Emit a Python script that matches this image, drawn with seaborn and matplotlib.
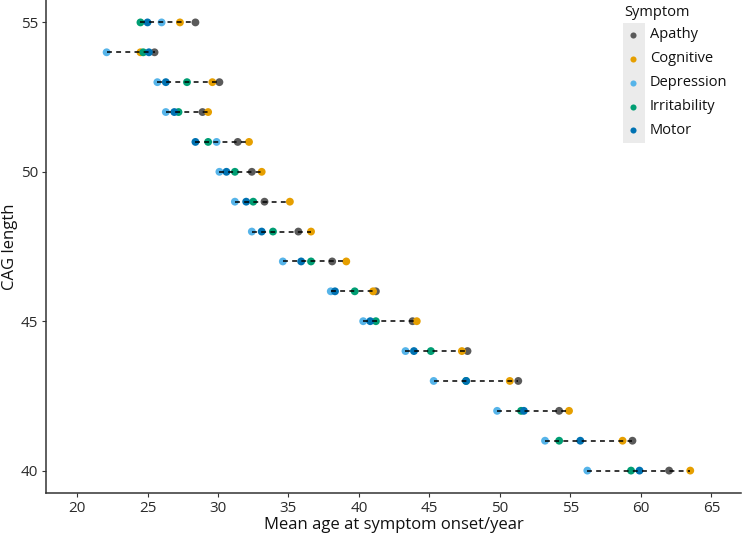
import numpy as np
import pandas as pd
import matplotlib
matplotlib.use("Agg")
import matplotlib.pyplot as plt
import seaborn as sns
from matplotlib.patches import Rectangle
from matplotlib.lines import Line2D

cag = [55, 54, 53, 52, 51, 50, 49, 48, 47, 46, 45, 44, 43, 42, 41, 40]
apathy =       [28.4, 25.5, 30.1, 28.9, 31.4, 32.4, 33.3, 35.7, 38.1, 41.2, 43.8, 47.7, 51.3, 54.2, 59.4, 62.0]
cognitive =    [27.3, 24.5, 29.6, 29.3, 32.2, 33.1, 35.1, 36.6, 39.1, 41.0, 44.1, 47.3, 50.7, 54.9, 58.7, 63.5]
depression =   [26.0, 22.1, 25.7, 26.3, 29.9, 30.1, 31.2, 32.4, 34.6, 38.0, 40.3, 43.3, 45.3, 49.8, 53.2, 56.2]
irritability = [24.5, 24.7, 27.8, 27.2, 29.3, 31.2, 32.5, 33.9, 36.6, 39.7, 41.2, 45.1, 47.6, 51.5, 54.2, 59.3]
motor =        [25.0, 25.1, 26.3, 26.9, 28.4, 30.6, 32.0, 33.1, 35.9, 38.3, 40.8, 43.9, 47.6, 51.7, 55.7, 59.9]

symptoms = ["Apathy", "Cognitive", "Depression", "Irritability", "Motor"]
colors = ["#5a5a5a", "#E69F00", "#56B4E9", "#009E73", "#0072B2"]

series = {"Apathy": apathy, "Cognitive": cognitive, "Depression": depression,
          "Irritability": irritability, "Motor": motor}
rows = []
for s in symptoms:
    for c, v in zip(cag, series[s]):
        rows.append({"CAG": c, "Age": v, "Symptom": s})
df = pd.DataFrame(rows)

sns.set_style("white")
plt.rcParams["font.family"] = ["Open Sans", "DejaVu Sans"]

W, H = 742, 539
fig = plt.figure(figsize=(W / 100, H / 100), dpi=100)
ax = fig.add_axes([46 / W, (H - 493) / H, (741 - 46) / W, 493 / H])

sns.scatterplot(data=df, x="Age", y="CAG", hue="Symptom", hue_order=symptoms,
                palette=dict(zip(symptoms, colors)), s=32, linewidth=0,
                ax=ax, legend=False, zorder=2)

rng = df.groupby("CAG")["Age"].agg(["min", "max"]).reset_index()
ax.hlines(rng["CAG"], rng["min"], rng["max"], colors="black", linestyles=(0, (3.2, 2.8)),
          linewidth=1.1, zorder=3)

ax.set_xlim(17.8, 67.1)
ax.set_ylim(39.25, 55.75)
ax.set_xticks([20, 25, 30, 35, 40, 45, 50, 55, 60, 65])
ax.set_yticks([40, 45, 50, 55])
ax.tick_params(axis="both", labelsize=11, colors="#333333", length=3, width=0.8,
               left=True, bottom=True, labelcolor="#2b2b2b", pad=2.5)
for side in ["top", "right"]:
    ax.spines[side].set_visible(False)
for side in ["left", "bottom"]:
    ax.spines[side].set_color("#333333")
    ax.spines[side].set_linewidth(1.1)
ax.set_xlabel("Mean age at symptom onset/year", fontsize=12, color="#111111", labelpad=1)
ax.set_ylabel("CAG length", fontsize=12, color="#111111", labelpad=2)

# legend (drawn in figure pixel positions)
def fx(px):
    return px / W

def fy(py):
    return 1 - py / H

fig.patches.append(Rectangle((fx(623), fy(143)), 22 / W, 120 / H,
                             transform=fig.transFigure, facecolor="#ebebeb",
                             edgecolor="none", zorder=0))
fig.text(fx(624), fy(12), "Symptom", fontsize=10.5, color="#111111",
         ha="left", va="center")
ys = [35, 59, 83, 107, 130]
for name, col, yy in zip(symptoms, colors, ys):
    fig.lines.append(Line2D([fx(633)], [fy(yy)], marker="o", linestyle="", markersize=4.4,
                            markerfacecolor=col, markeredgewidth=0,
                            transform=fig.transFigure, zorder=5))
    fig.text(fx(650), fy(yy), name, fontsize=10.5, color="#111111",
             ha="left", va="center")

fig.savefig("out.png", dpi=100)
